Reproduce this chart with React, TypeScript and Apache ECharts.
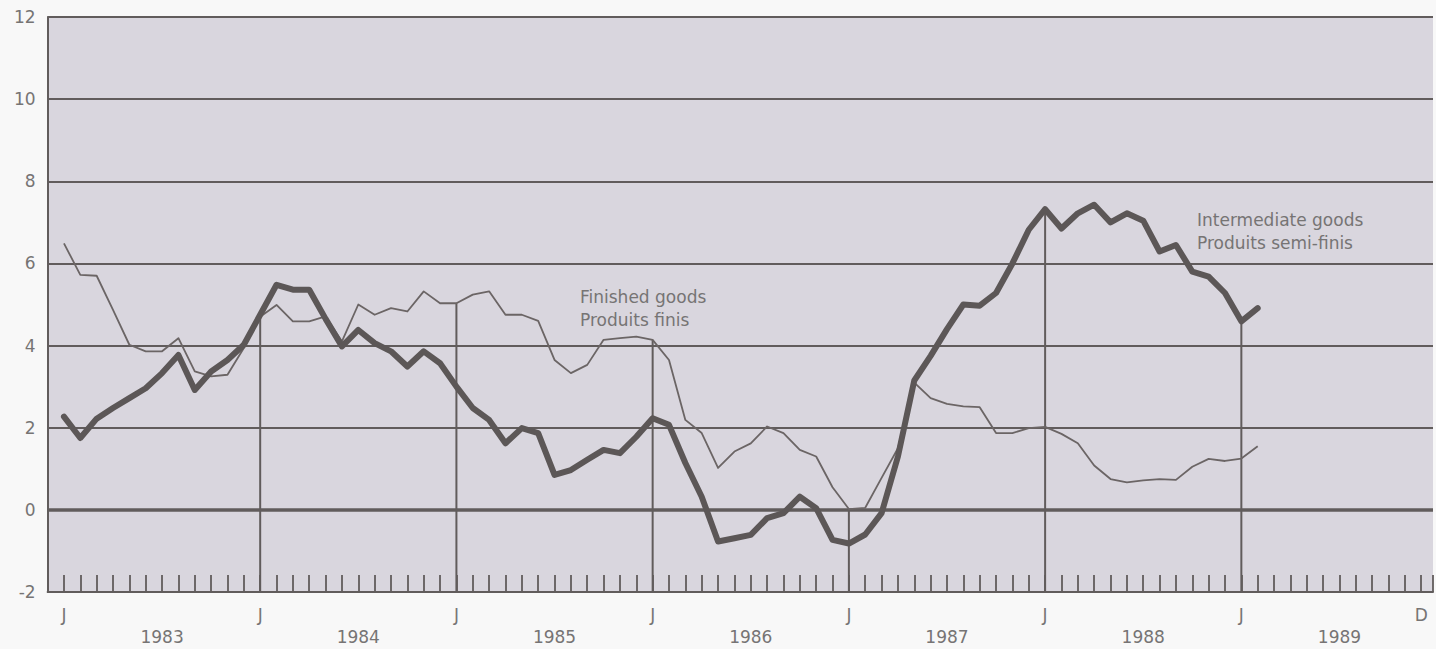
import React, { useEffect, useRef } from "react";
import * as echarts from "echarts";

// Monthly series, January 1983 (index 0) to February 1989 (index 73)
const intermediateGoods: number[] = [
  // 1983
  2.27, 1.75, 2.22, 2.48, 2.72, 2.96, 3.33, 3.77, 2.92, 3.37, 3.65, 4.02,
  // 1984
  4.75, 5.48, 5.36, 5.36, 4.65, 3.98, 4.38, 4.06, 3.86, 3.49, 3.86, 3.57,
  // 1985
  3.0, 2.48, 2.19, 1.62, 1.99, 1.87, 0.85, 0.97, 1.22, 1.46, 1.38, 1.78,
  // 1986
  2.23, 2.07, 1.14, 0.32, -0.77, -0.69, -0.61, -0.2, -0.08, 0.32, 0.04, -0.73,
  // 1987
  -0.82, -0.6, -0.08, 1.3, 3.15, 3.75, 4.4, 5.0, 4.97, 5.28, 6.0, 6.82,
  // 1988
  7.32, 6.85, 7.22, 7.43, 7.0, 7.22, 7.04, 6.29, 6.45, 5.8, 5.68, 5.28,
  // 1989
  4.59, 4.91,
];

const finishedGoods: number[] = [
  // 1983
  6.49, 5.72, 5.7, 4.87, 4.02, 3.86, 3.86, 4.18, 3.37, 3.25, 3.29, 3.94,
  // 1984
  4.7, 4.99, 4.59, 4.59, 4.71, 4.1, 5.0, 4.75, 4.91, 4.83, 5.32, 5.03,
  // 1985
  5.03, 5.24, 5.32, 4.75, 4.75, 4.6, 3.65, 3.33, 3.53, 4.14, 4.18, 4.22,
  // 1986
  4.14, 3.65, 2.19, 1.87, 1.02, 1.42, 1.62, 2.03, 1.87, 1.46, 1.3, 0.55,
  // 1987
  0.02, 0.05, 0.78, 1.5, 3.1, 2.72, 2.58, 2.52, 2.5, 1.87, 1.87, 1.99,
  // 1988
  2.02, 1.85, 1.62, 1.08, 0.75, 0.67, 0.72, 0.75, 0.73, 1.05, 1.24, 1.19,
  // 1989
  1.25, 1.55,
];

const yearLabels = ["1983", "1984", "1985", "1986", "1987", "1988", "1989"];
const januaryLabel = "J";
const decemberLabel = "D";
const lastMonthIndex = 83; // December 1989
const yMin = -2;
const yMax = 12;
const yStep = 2;

const FONT = '"DejaVu Sans", "Liberation Sans", sans-serif';
const INK = "#615c5c";
const TEXT = "#767474";

export default function App() {
  const ref = useRef<HTMLDivElement>(null);

  useEffect(() => {
    if (!ref.current) return;
    const chart = echarts.init(ref.current, undefined, { renderer: "svg" });

    const isInt = (v: number) => Math.abs(v - Math.round(v)) < 1e-6;

    const dropLines = yearLabels
      .map((_, k) => k * 12)
      .filter((m) => m > 0 && m < intermediateGoods.length)
      .map((m) => [m, Math.max(intermediateGoods[m], finishedGoods[m])]);

    const xCommon = {
      type: "value" as const,
      min: -1,
      max: 83.72,
      interval: 1,
      splitLine: { show: false },
    };

    chart.setOption({
      animation: false,
      backgroundColor: "#f8f8f8",
      grid: {
        left: 47.6,
        right: 0,
        top: 17,
        bottom: 57,
        show: true,
        backgroundColor: "#d9d6de",
        borderWidth: 0,
      },
      xAxis: [
        {
          ...xCommon,
          axisLine: { show: true, onZero: false, lineStyle: { color: INK, width: 2 } },
          axisTick: { show: true, inside: true, length: 17, lineStyle: { color: INK, width: 1.8 } },
          axisLabel: {
            margin: 14,
            color: TEXT,
            fontSize: 17,
            fontFamily: FONT,
            formatter: (v: number) => {
              if (!isInt(v)) return "";
              const m = Math.round(v);
              if (m >= 0 && m % 12 === 0 && m <= 72) return januaryLabel;
              if (m === lastMonthIndex) return decemberLabel;
              return "";
            },
          },
        },
        {
          ...xCommon,
          position: "bottom",
          axisLine: { show: false, onZero: false },
          axisTick: { show: false },
          axisLabel: {
            margin: 36,
            color: TEXT,
            fontSize: 17,
            fontFamily: FONT,
            formatter: (v: number) => {
              if (!isInt(v)) return "";
              const m = Math.round(v);
              if (m >= 0 && m % 12 === 6) return yearLabels[(m - 6) / 12] ?? "";
              return "";
            },
          },
        },
      ],
      yAxis: {
        type: "value",
        min: yMin,
        max: yMax,
        interval: yStep,
        axisLine: { show: true, onZero: false, lineStyle: { color: INK, width: 2 } },
        axisTick: { show: false },
        splitLine: { show: true, lineStyle: { color: INK, width: 2 } },
        axisLabel: {
          margin: 12,
          color: TEXT,
          fontSize: 17,
          fontFamily: FONT,
          padding: [10, 0, 0, 0],
        },
      },
      graphic: [
        {
          type: "text",
          x: 580,
          y: 285,
          style: {
            text: "Finished goods\nProduits finis",
            fill: TEXT,
            fontSize: 17,
            fontFamily: FONT,
            lineHeight: 23,
            verticalAlign: "top",
          },
        },
        {
          type: "text",
          x: 1197,
          y: 208,
          style: {
            text: "Intermediate goods\nProduits semi-finis",
            fill: TEXT,
            fontSize: 17,
            fontFamily: FONT,
            lineHeight: 23,
            verticalAlign: "top",
          },
        },
      ],
      series: [
        {
          type: "custom",
          name: "drop",
          xAxisIndex: 0,
          z: 1,
          encode: { x: 0, y: 1 },
          data: dropLines,
          renderItem: (_params: any, api: any) => {
            const p1 = api.coord([api.value(0), api.value(1)]);
            const p2 = api.coord([api.value(0), yMin]);
            return {
              type: "line",
              shape: { x1: p1[0], y1: p1[1], x2: p2[0], y2: p2[1] },
              style: { stroke: INK, lineWidth: 2 },
            };
          },
        },
        {
          type: "line",
          name: "Finished goods",
          xAxisIndex: 0,
          z: 3,
          symbol: "none",
          data: finishedGoods.map((v, i) => [i, v]),
          lineStyle: { color: "#6b6565", width: 1.8, join: "round" },
        },
        {
          type: "line",
          name: "Intermediate goods",
          xAxisIndex: 0,
          z: 4,
          symbol: "none",
          data: intermediateGoods.map((v, i) => [i, v]),
          lineStyle: { color: "#5c5757", width: 6, join: "round", cap: "round" },
          markLine: {
            silent: true,
            symbol: ["none", "none"],
            label: { show: false },
            lineStyle: { color: INK, width: 3.5, type: "solid" },
            data: [{ yAxis: 0 }],
            z: 2,
          },
        },
      ],
    });

    return () => chart.dispose();
  }, []);

  return (
    <div
      ref={ref}
      style={{ position: "fixed", left: 0, top: 0, width: 1436, height: 649 }}
    />
  );
}
